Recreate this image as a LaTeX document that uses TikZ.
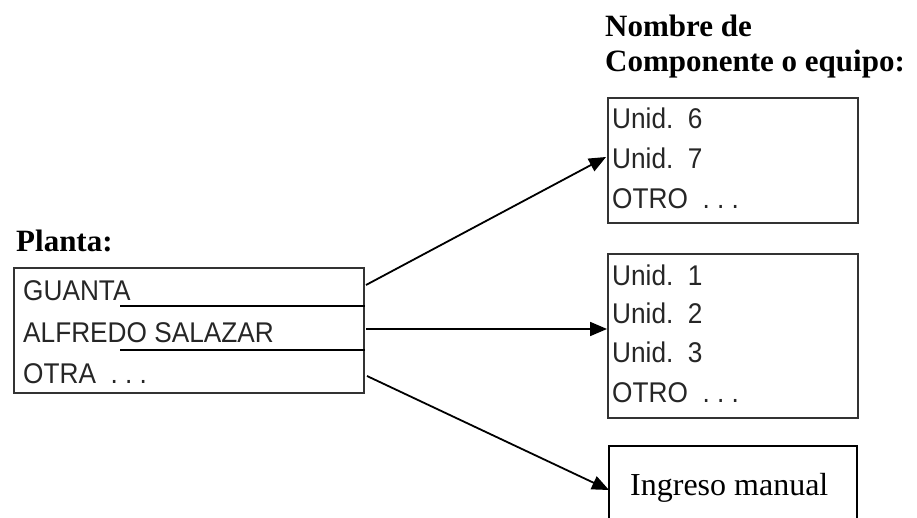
\documentclass[tikz,border=0pt]{standalone}
\usepackage{fontspec}
\setmainfont{Liberation Serif}
\newfontfamily\listfont[FakeStretch=0.92]{Liberation Sans}
\usetikzlibrary{arrows.meta}
\begin{document}
\begin{tikzpicture}[x=1pt,y=-1pt,
  boxframe/.style={draw=black!80,line width=1.8pt,inner sep=0pt,anchor=north west},
  item/.style={anchor=base west,inner sep=0pt,text=black!85,font=\listfont\fontsize{28.5}{32}\selectfont},
  heading/.style={anchor=base west,inner sep=0pt,font=\bfseries\fontsize{31}{35}\selectfont},
  conn/.style={line width=1.8pt,-{Triangle[length=17pt,width=14pt]}}]
\useasboundingbox (0,0) rectangle (917,518);
% headings
\node[heading] (hplanta) at (16,252) {Planta:};
\node[heading] (hnombre1) at (605,37) {Nombre de};
\node[heading] (hnombre2) at (605,72) {Componente o equipo:};
% left box
\node[boxframe,minimum width=350pt,minimum height=125pt] (planta) at (13,267) {};
\node[item] (p1) at (23,300) {GUANTA};
\node[item] (p2) at (23,342) {ALFREDO SALAZAR};
\node[item] (p3) at (23,383) {OTRA\ \ .\ .\ .};
\draw[line width=1.5pt] (120,306) -- (planta.east |- 0,306);
\draw[line width=1.5pt] (120,350) -- (planta.east |- 0,350);
% top right box
\node[boxframe,minimum width=250pt,minimum height=125pt] (comp1) at (607,97) {};
\node[item] (c1a) at (612,129) {Unid.\ \ 6};
\node[item] (c1b) at (612,169) {Unid.\ \ 7};
\node[item] (c1c) at (612,209) {OTRO\ \ .\ .\ .};
% middle right box
\node[boxframe,minimum width=250pt,minimum height=164pt] (comp2) at (607,253) {};
\node[item] (c2a) at (612,285) {Unid.\ \ 1};
\node[item] (c2b) at (612,323) {Unid.\ \ 2};
\node[item] (c2c) at (612,362) {Unid.\ \ 3};
\node[item] (c2d) at (612,402) {OTRO\ \ .\ .\ .};
% bottom box (open at bottom)
\coordinate (mbl) at (609,525);
\coordinate (mtl) at (609,446);
\coordinate (mtr) at (857,446);
\coordinate (mbr) at (857,525);
\draw[black,line width=1.8pt] (mbl) -- (mtl) -- (mtr) -- (mbr);
\node[anchor=base west,inner sep=0pt,font=\fontsize{32}{36}\selectfont] (manual) at (630,495) {Ingreso manual};
% connectors
\coordinate (s1) at (366,285);
\coordinate (s2) at (366,329);
\coordinate (s3) at (367,376);
\coordinate (e1) at (606,157);
\coordinate (e2) at (607,329);
\coordinate (e3) at (609,490);
\draw[conn] (s1) -- (e1);
\draw[conn] (s2) -- (e2);
\draw[conn] (s3) -- (e3);
\end{tikzpicture}
\end{document}
